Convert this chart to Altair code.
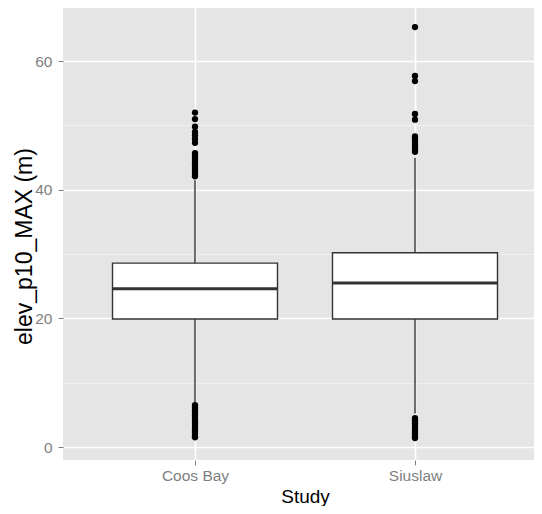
import altair as alt
import pandas as pd

# ---- data ----
studies = ["Coos Bay", "Siuslaw"]
positions = [1, 2]
lower_whisker = [7.0, 5.2]
q1 = [19.9, 19.9]
median = [24.6, 25.5]
q3 = [28.6, 30.2]
upper_whisker = [41.5, 45.0]

coos_outliers = [52.0, 51.0, 49.8, 49.0, 48.5, 47.9, 47.3,
                 45.7, 45.3, 44.9, 44.5, 44.1, 43.7, 43.3, 42.9, 42.5, 42.1,
                 6.5, 6.1, 5.7, 5.3, 4.9, 4.5, 4.1, 3.7, 3.3, 2.9, 2.5, 2.1, 1.7, 1.5]
siuslaw_outliers = [65.3, 57.7, 56.9, 51.8, 50.9,
                    48.3, 47.9, 47.5, 47.1, 46.7, 46.3, 45.9,
                    4.5, 4.1, 3.7, 3.3, 2.9, 2.5, 2.1, 1.7, 1.4]

y_ticks = [0, 10, 20, 30, 40, 50, 60]

stats = pd.DataFrame({
    "Study": studies, "pos": positions, "lower": lower_whisker, "q1": q1,
    "median": median, "q3": q3, "upper": upper_whisker,
})
out = pd.DataFrame({
    "Study": ["Coos Bay"] * len(coos_outliers) + ["Siuslaw"] * len(siuslaw_outliers),
    "value": coos_outliers + siuslaw_outliers,
})
out["pos"] = out["Study"].map(dict(zip(studies, positions)))

FONT = "Liberation Sans"
label_expr = " : ".join(f"datum.value == {p} ? '{s}'" for p, s in zip(positions, studies)) + " : ''"

W = 471
x_scale = alt.Scale(domain=[0.4, 0.4 + W / 220], nice=False, zero=False)
y_scale = alt.Scale(domain=[-2.02, 68.27], nice=False, zero=False)

x_axis = alt.Axis(
    values=positions, labelExpr=label_expr, title="Study",
    grid=True, gridColor="#FFFFFF", gridWidth=1.6,
    domain=False, tickSize=5, tickColor="#7F7F7F", tickWidth=1,
    labelColor="#7F7F7F", labelFont=FONT, labelFontSize=15.5, labelPadding=3,
    titleFont=FONT, titleFontSize=19, titleFontWeight="normal", titleColor="#000000",
    titleX=242, titleY=36, titleBaseline="middle", titleAnchor="middle",
)
y_axis = alt.Axis(
    values=y_ticks, labelExpr="datum.value % 20 === 0 ? datum.label : ''",
    title="elev_p10_MAX (m)",
    grid=True,
    gridColor={"condition": {"test": "datum.value % 20 === 0", "value": "#FFFFFF"}, "value": "#F2F2F2"},
    gridWidth={"condition": {"test": "datum.value % 20 === 0", "value": 1.6}, "value": 0.8},
    tickOpacity={"condition": {"test": "datum.value % 20 === 0", "value": 1}, "value": 0},
    domain=False, tickSize=5, tickColor="#7F7F7F", tickWidth=1,
    labelColor="#7F7F7F", labelFont=FONT, labelFontSize=15.5, labelPadding=6,
    titleFont=FONT, titleFontSize=23, titleFontWeight="normal", titleColor="#000000",
    titleAngle=-90, titleX=-39, titleY=238, titleBaseline="middle", titleAlign="center",
)

base = alt.Chart(stats)

whisker = base.mark_rule(color="#333333", strokeWidth=1.4).encode(
    x=alt.X("pos:Q", scale=x_scale, axis=x_axis),
    y=alt.Y("lower:Q", scale=y_scale, axis=y_axis),
    y2="upper:Q",
)

box = base.transform_calculate(
    left="datum.pos - 0.375", right="datum.pos + 0.375"
).mark_rect(fill="#FFFFFF", stroke="#333333", strokeWidth=1.4).encode(
    x=alt.X("left:Q", scale=x_scale),
    x2="right:Q",
    y=alt.Y("q1:Q", scale=y_scale),
    y2="q3:Q",
)

med = base.transform_calculate(
    left="datum.pos - 0.375", right="datum.pos + 0.375"
).mark_rule(color="#333333", strokeWidth=3).encode(
    x=alt.X("left:Q", scale=x_scale),
    x2="right:Q",
    y=alt.Y("median:Q", scale=y_scale),
)

pts = alt.Chart(out).mark_circle(color="#000000", size=40, opacity=1).encode(
    x=alt.X("pos:Q", scale=x_scale),
    y=alt.Y("value:Q", scale=y_scale),
)

chart = alt.layer(whisker, box, med, pts).properties(
    width=W, height=452,
    autosize=alt.AutoSizeParams(type="none"),
    padding={"left": 55, "top": 0, "right": 0, "bottom": 46},
    background="#FFFFFF",
).configure_view(fill="#E5E5E5", stroke=None)

chart.save("out.html", embed_options={"renderer": "svg", "actions": False})
